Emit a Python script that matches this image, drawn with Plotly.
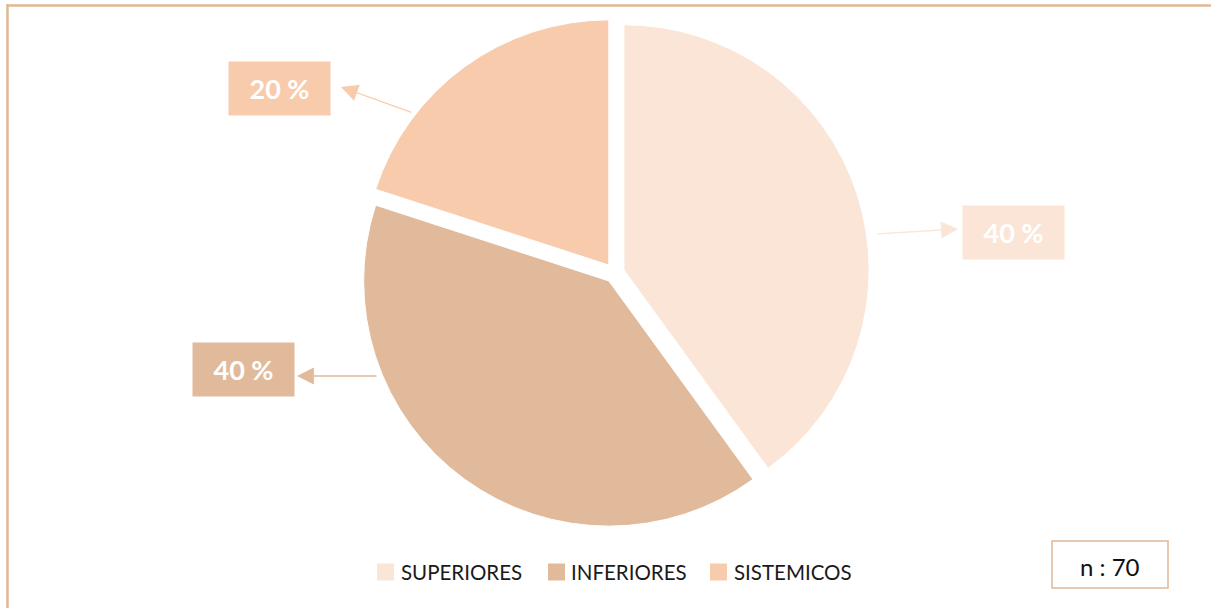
import plotly.graph_objects as go

# Data
categories = ["SUPERIORES", "INFERIORES", "SISTEMICOS"]
percentages = [40, 40, 20]
colors = ["#FBE5D6", "#E0BA9B", "#F8CBAD"]
sample_size = 70

W, H = 1211, 608
BORDER = "#E1B895"
FONT = "Lato, 'Open Sans', sans-serif"


def px(x):
    return x / W


def py(y):
    return 1 - y / H


# Pie placement (pixels): centre and outer size including the pull
cx, cy, size = 614.6, 273.0, 510
pull = 0.04

fig = go.Figure(
    go.Pie(
        labels=categories,
        values=percentages,
        marker=dict(colors=colors, line=dict(color="white", width=1)),
        sort=False,
        direction="clockwise",
        rotation=0,
        pull=[pull] * len(categories),
        textinfo="none",
        hoverinfo="label+percent",
        showlegend=False,
        domain=dict(
            x=[px(cx - size / 2), px(cx + size / 2)],
            y=[py(cy + size / 2), py(cy - size / 2)],
        ),
    )
)

# Data label boxes (centre x, centre y) and arrow (tail -> tip) per slice
label_boxes = {
    "SUPERIORES": dict(box=(1014, 232.5), tail=(876, 234), tip=(958, 229)),
    "INFERIORES": dict(box=(243, 369.5), tail=(378, 376), tip=(297, 376)),
    "SISTEMICOS": dict(box=(279.5, 88), tail=(413, 113), tip=(341, 87)),
}

annotations = []
for cat, pct, col in zip(categories, percentages, colors):
    spec = label_boxes[cat]
    bx, by = spec["box"]
    annotations.append(
        dict(
            x=px(bx), y=py(by), xref="paper", yref="paper",
            text=f"<b>{pct} %</b>", showarrow=False,
            font=dict(family=FONT, size=27, color="white"),
            bgcolor=col, width=101, height=53, borderpad=0,
            xanchor="center", yanchor="middle",
        )
    )
    (tx, ty), (hx, hy) = spec["tail"], spec["tip"]
    annotations.append(
        dict(
            x=px(hx), y=py(hy), xref="paper", yref="paper",
            ax=tx - hx, ay=ty - hy, axref="pixel", ayref="pixel",
            text="", showarrow=True, arrowhead=2, arrowsize=2.6,
            arrowwidth=1.3, arrowcolor=col, standoff=0,
        )
    )

# Legend drawn as swatches + text along the bottom
legend_items = [(377, 399), (548, 569), (710, 732)]
legend_y = 572
shapes = []
for (sx, tx), cat, col in zip(legend_items, categories, colors):
    shapes.append(
        dict(type="rect", xref="paper", yref="paper",
             x0=px(sx), x1=px(sx + 17), y0=py(legend_y + 8.5), y1=py(legend_y - 8.5),
             fillcolor=col, line=dict(width=0))
    )
    annotations.append(
        dict(x=px(tx), y=py(legend_y), xref="paper", yref="paper",
             text=cat, showarrow=False, xanchor="left", yanchor="middle",
             font=dict(family=FONT, size=20.5, color="#1a1a1a"))
    )

# Sample-size box
shapes.append(
    dict(type="rect", xref="paper", yref="paper",
         x0=px(1052), x1=px(1168), y0=py(588), y1=py(541),
         fillcolor="white", line=dict(color=BORDER, width=1.5))
)
annotations.append(
    dict(x=px(1110), y=py(566), xref="paper", yref="paper",
         text=f"n : {sample_size}", showarrow=False,
         xanchor="center", yanchor="middle",
         font=dict(family=FONT, size=24, color="#111111"))
)

# Chart frame (top and left edges)
shapes.append(dict(type="line", xref="paper", yref="paper",
                   x0=px(6.5), x1=px(W + 2), y0=py(5.5), y1=py(5.5),
                   line=dict(color=BORDER, width=2.5)))
shapes.append(dict(type="line", xref="paper", yref="paper",
                   x0=px(7.5), x1=px(7.5), y0=py(4.5), y1=py(H + 2),
                   line=dict(color=BORDER, width=2.5)))

fig.update_layout(
    width=W, height=H,
    margin=dict(l=0, r=0, t=0, b=0),
    paper_bgcolor="white", plot_bgcolor="white",
    shapes=shapes, annotations=annotations,
    font=dict(family=FONT),
)

fig.write_html("out.html")
